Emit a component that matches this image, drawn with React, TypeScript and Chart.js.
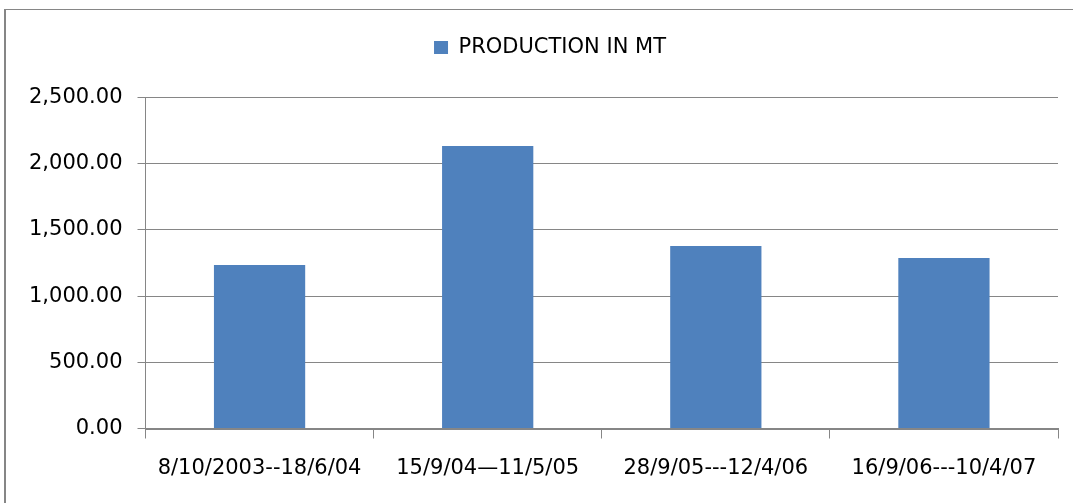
import React, { useEffect, useRef } from "react";
import { Chart, registerables } from "chart.js";

Chart.register(...registerables);

const categories = [
  "8/10/2003--18/6/04",
  "15/9/04\u201411/5/05",
  "28/9/05---12/4/06",
  "16/9/06---10/4/07",
];
const seriesLabel = "PRODUCTION IN MT";
const productionValues = [1235, 2134, 1378, 1288];
const yMin = 0;
const yMax = 2500;
const yStep = 500;

const FONT = "'DejaVu Sans', sans-serif";
const GRID = "#868686";
const LEGEND_HEIGHT = 70.5;
const LEGEND_SHIFT = 21;

const legendTweak = {
  id: "legendTweak",
  afterInit(chart: any) {
    const lg = chart.legend;
    if (lg && !lg.__patched) {
      const orig = lg.fit.bind(lg);
      lg.fit = function () {
        orig();
        this.height = LEGEND_HEIGHT;
      };
      lg.__patched = true;
    }
  },
  afterLayout(chart: any) {
    const lg = chart.legend;
    if (lg) {
      lg.left += LEGEND_SHIFT;
      lg.right += LEGEND_SHIFT;
    }
  },
};

export default function App() {
  const ref = useRef<HTMLCanvasElement | null>(null);

  useEffect(() => {
    document.body.style.margin = "0";
    document.body.style.overflow = "hidden";
    const canvas = ref.current;
    if (!canvas) return;
    const chart = new Chart(canvas, {
      type: "bar",
      data: {
        labels: categories,
        datasets: [
          {
            label: seriesLabel,
            data: productionValues,
            backgroundColor: "#4F81BD",
            borderWidth: 0,
            categoryPercentage: 0.8,
            barPercentage: 0.5,
          },
        ],
      },
      plugins: [legendTweak],
      options: {
        responsive: false,
        animation: false,
        devicePixelRatio: 1,
        layout: { padding: { left: 0, right: 15, top: 27, bottom: 0 } },
        plugins: {
          tooltip: { enabled: false },
          legend: {
            position: "top",
            labels: {
              boxWidth: 14,
              boxHeight: 13,
              padding: 10,
              color: "#000",
              font: { family: FONT, size: 21 },
            },
          },
        },
        scales: {
          x: {
            grid: {
              display: true,
              drawOnChartArea: false,
              drawTicks: true,
              tickLength: 10,
              color: GRID,
              offset: true,
            },
            border: { display: true, color: GRID, width: 2 },
            ticks: {
              color: "#000",
              font: { family: FONT, size: 21 },
              padding: 17,
              maxRotation: 0,
              autoSkip: false,
            },
            afterFit: (s: any) => {
              s.height = 503 - 428.5;
            },
          },
          y: {
            min: yMin,
            max: yMax,
            ticks: {
              stepSize: yStep,
              padding: 15,
              color: "#000",
              font: { family: FONT, size: 21 },
              callback: (v: any) =>
                Number(v).toLocaleString("en-US", {
                  minimumFractionDigits: 2,
                  maximumFractionDigits: 2,
                }),
            },
            grid: { color: GRID, tickLength: 8, drawTicks: true },
            border: { display: true, color: GRID, width: 1 },
            afterFit: (s: any) => {
              s.width = 145.5;
            },
          },
        },
      },
    });
    return () => chart.destroy();
  }, []);

  return (
    <div
      style={{
        position: "relative",
        width: 1073,
        height: 503,
        overflow: "hidden",
        background: "#fff",
      }}
    >
      <div
        style={{
          position: "absolute",
          left: 4,
          top: 9,
          width: 1069,
          height: 1,
          background: "#868686",
        }}
      />
      <div
        style={{
          position: "absolute",
          left: 4,
          top: 9,
          width: 2,
          height: 494,
          background: "#868686",
        }}
      />
      <canvas
        ref={ref}
        width={1073}
        height={503}
        style={{ position: "absolute", left: 0, top: 0, width: 1073, height: 503 }}
      />
    </div>
  );
}
